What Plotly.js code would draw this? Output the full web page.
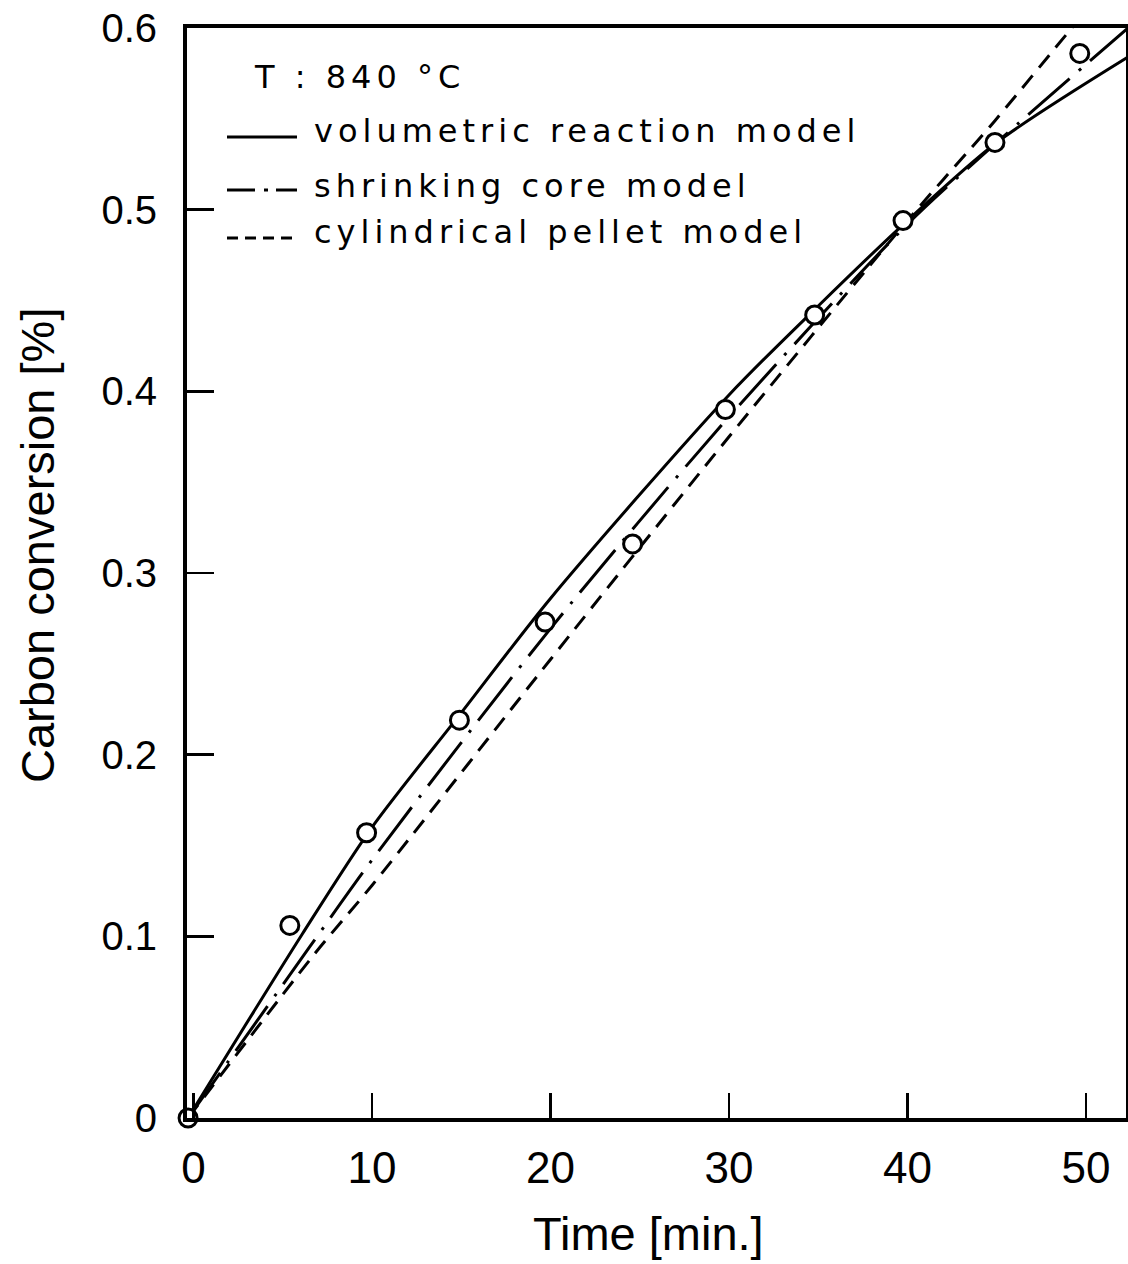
<!DOCTYPE html>
<html>
<head>
<meta charset="utf-8">
<script src="https://cdn.plot.ly/plotly-3.0.1.min.js"></script>
<style>
  html, body { margin: 0; padding: 0; background: #fff; }
  .annotation-text.spaced { letter-spacing: 5px; }
</style>
</head>
<body>
<div id="chart" style="width:1128px;height:1264px;"></div>
<script>
// Observed data (open circles)
const timeObs = [-0.3, 5.4, 9.7, 14.9, 19.7, 24.6, 29.8, 34.8, 39.75, 44.9, 49.65];
const convObs = [0, 0.106, 0.157, 0.219, 0.273, 0.316, 0.390, 0.442, 0.494, 0.537, 0.586];

// Volumetric reaction model (solid)
const timeVol = [-0.3, 6.1, 10, 15, 20, 30, 35, 40, 45, 52.35];
const convVol = [0, 0.1013, 0.160, 0.223, 0.286, 0.398, 0.447, 0.494, 0.537, 0.584];

// Shrinking core model (dash-dot)
const timeShr = [-0.3, 6.5, 10, 20, 30, 40, 45, 52.35];
const convShr = [0, 0.094, 0.142, 0.2694, 0.386, 0.492, 0.537, 0.600];

// Cylindrical pellet model (dashed)
const timeCyl = [-0.3, 6.8, 10, 20, 30, 40, 44.9, 49.2, 52.35];
const convCyl = [0, 0.0905, 0.128, 0.2524, 0.375, 0.494, 0.549, 0.600, 0.637];

const xTicks = [0, 10, 20, 30, 40, 50];
const yTicks = [0, 0.1, 0.2, 0.3, 0.4, 0.5, 0.6];
const yTickText = ['0', '0.1', '0.2', '0.3', '0.4', '0.5', '0.6'];

const legendLabels = ['volumetric reaction model', 'shrinking core model', 'cylindrical pellet model'];
const tempLabel = 'T : 840 °C';
const xTitle = 'Time [min.]';
const yTitle = 'Carbon conversion [%]';

const lineStyle = (dash) => ({ color: '#000', width: 3, dash: dash, shape: 'spline', smoothing: 0.8 });

const traces = [
  { x: timeVol, y: convVol, mode: 'lines', line: lineStyle('solid'), name: legendLabels[0], hoverinfo: 'skip' },
  { x: timeShr, y: convShr, mode: 'lines', line: lineStyle('55px,12px,3px,12px'), name: legendLabels[1], hoverinfo: 'skip' },
  { x: timeCyl, y: convCyl, mode: 'lines', line: lineStyle('16px,10px'), name: legendLabels[2], hoverinfo: 'skip' },
  { x: timeObs, y: convObs, mode: 'markers', cliponaxis: false, name: 'data',
    marker: { symbol: 'circle', size: 18, color: '#fff', line: { color: '#000', width: 3 } } }
];

// helpers for paper coordinates of legend decorations
const L = 187, R = 2, T = 28, B = 146, W = 1128, H = 1264;
const px = (v) => (v - L) / (W - L - R);
const py = (v) => (H - B - v) / (H - T - B);

const annFont = { family: 'DejaVu Sans, sans-serif', size: 32, color: '#000' };
const annotations = [
  { text: tempLabel, x: px(252), y: py(77) },
  { text: legendLabels[0], x: px(312), y: py(131) },
  { text: legendLabels[1], x: px(312), y: py(186) },
  { text: legendLabels[2], x: px(312), y: py(232) }
].map(a => Object.assign({ xref: 'paper', yref: 'paper', xanchor: 'left', yanchor: 'middle',
  align: 'left', showarrow: false, font: annFont }, a));

const titleFont = { family: 'Liberation Sans, Arial, sans-serif', size: 47, color: '#000' };
annotations.push({ text: yTitle, xref: 'paper', yref: 'paper', x: px(37), y: py(546),
  xanchor: 'center', yanchor: 'middle', textangle: -90, showarrow: false, font: titleFont });
annotations.push({ text: xTitle, xref: 'paper', yref: 'paper', x: px(648), y: py(1233),
  xanchor: 'center', yanchor: 'middle', showarrow: false, font: titleFont });

const seg = (x0, x1, y, dash) => ({ type: 'line', xref: 'paper', yref: 'paper',
  x0: px(x0), x1: px(x1), y0: py(y), y1: py(y), line: { color: '#000', width: 3, dash: dash || 'solid' } });

const shapes = [
  seg(227, 297, 137),
  seg(227, 255, 190), seg(264, 268, 190), seg(276, 297, 190),
  seg(227, 292, 238, '11px,7px')
];

const layout = {
  width: W, height: H,
  margin: { l: L, r: R, t: T, b: B, pad: 0 },
  paper_bgcolor: '#fff', plot_bgcolor: '#fff',
  showlegend: false,
  font: { family: 'Liberation Sans, Arial, sans-serif', color: '#000' },
  xaxis: {
    range: [-0.36, 52.24], tickvals: xTicks, ticks: 'inside', ticklen: 25, tickwidth: 2.5, tickcolor: '#000',
    showline: true, linewidth: 4, linecolor: '#000', mirror: true, showgrid: false, zeroline: false,
    tickfont: { family: 'Liberation Sans, Arial, sans-serif', size: 44, color: '#000' },
    ticklabelstandoff: 8
  },
  yaxis: {
    range: [0, 0.6], tickvals: yTicks, ticktext: yTickText, ticks: 'inside', ticklen: 27, tickwidth: 2.5, tickcolor: '#000',
    showline: true, linewidth: 4, linecolor: '#000', mirror: true, showgrid: false, zeroline: false,
    tickfont: { family: 'Liberation Sans, Arial, sans-serif', size: 40, color: '#000' },
    ticklabelstandoff: 18
  },
  annotations: annotations,
  shapes: shapes
};

Plotly.newPlot('chart', traces, layout, { staticPlot: true, displayModeBar: false }).then(() => {
  // letter-spacing for the in-plot legend texts (the reference uses widely spaced lettering)
  document.querySelectorAll('.annotation-text').forEach((el, i) => {
    if (i < 4) el.classList.add('spaced');
  });
});
</script>
</body>
</html>
